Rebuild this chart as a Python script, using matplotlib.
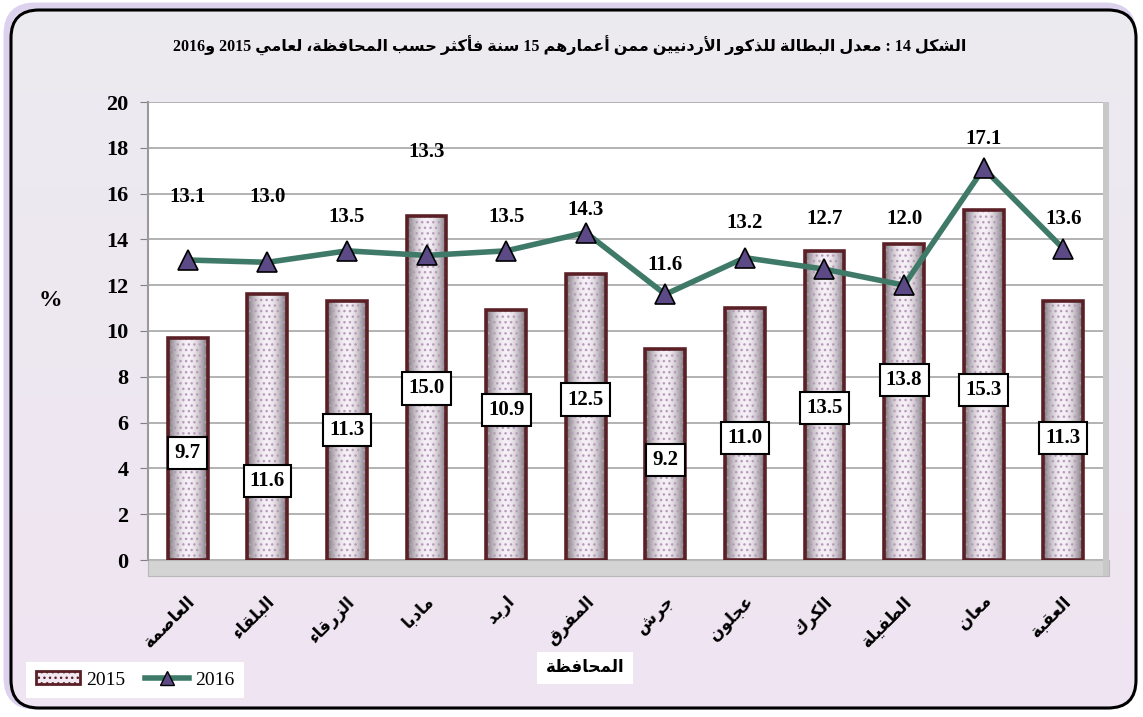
import re
import numpy as np
import matplotlib
matplotlib.use("Agg")
import matplotlib.pyplot as plt
from matplotlib.patches import FancyBboxPatch, Rectangle, Patch
from matplotlib.lines import Line2D

plt.rcParams['font.family'] = ['Liberation Serif', 'DejaVu Sans']

# data
governorates = ['العاصمة', 'البلقاء', 'الزرقاء', 'مادبا', 'اربد', 'المفرق',
                'جرش', 'عجلون', 'الكرك', 'الطفيلة', 'معان', 'العقبة']
rate_2015 = [9.7, 11.6, 11.3, 15.0, 10.9, 12.5, 9.2, 11.0, 13.5, 13.8, 15.3, 11.3]
rate_2016 = [13.1, 13.0, 13.5, 13.3, 13.5, 14.3, 11.6, 13.2, 12.7, 12.0, 17.1, 13.6]
title = 'الشكل 14 : معدل البطالة للذكور الأردنيين ممن أعمارهم 15 سنة فأكثر حسب المحافظة، لعامي 2015 و2016'
xlabel = 'المحافظة'

# where the value boxes sit (y in data units), as placed in the original
bar_label_y = [4.67, 3.45, 5.68, 7.5, 6.55, 7.0, 4.37, 5.33, 6.64, 7.86, 7.42, 5.33]
line_label_y = [15.85, 15.85, 15.0, 17.8, 15.0, 15.3, 12.9, 14.7, 14.9, 14.9, 18.4, 14.9]

# --- minimal arabic shaping (matplotlib draws no joined letters by itself) ---
FORMS = {
    'ء': (0xFE80, 1), 'آ': (0xFE81, 2), 'أ': (0xFE83, 2), 'ؤ': (0xFE85, 2),
    'إ': (0xFE87, 2), 'ئ': (0xFE89, 4), 'ا': (0xFE8D, 2), 'ب': (0xFE8F, 4),
    'ة': (0xFE93, 2), 'ت': (0xFE95, 4), 'ث': (0xFE99, 4), 'ج': (0xFE9D, 4),
    'ح': (0xFEA1, 4), 'خ': (0xFEA5, 4), 'د': (0xFEA9, 2), 'ذ': (0xFEAB, 2),
    'ر': (0xFEAD, 2), 'ز': (0xFEAF, 2), 'س': (0xFEB1, 4), 'ش': (0xFEB5, 4),
    'ص': (0xFEB9, 4), 'ض': (0xFEBD, 4), 'ط': (0xFEC1, 4), 'ظ': (0xFEC5, 4),
    'ع': (0xFEC9, 4), 'غ': (0xFECD, 4), 'ف': (0xFED1, 4), 'ق': (0xFED5, 4),
    'ك': (0xFED9, 4), 'ل': (0xFEDD, 4), 'م': (0xFEE1, 4), 'ن': (0xFEE5, 4),
    'ه': (0xFEE9, 4), 'و': (0xFEED, 2), 'ى': (0xFEEF, 2), 'ي': (0xFEF1, 4),
}
LAM_ALEF = {'ا': 0xFEFB, 'أ': 0xFEF7, 'إ': 0xFEF9, 'آ': 0xFEF5}


def shape(s):
    units = []
    i = 0
    while i < len(s):
        c = s[i]
        if c == 'ل' and i + 1 < len(s) and s[i + 1] in LAM_ALEF:
            units.append(('LA', LAM_ALEF[s[i + 1]]))
            i += 2
        else:
            units.append((c, None))
            i += 1

    def is_ar(u):
        return u[0] == 'LA' or u[0] in FORMS

    def joins_fwd(u):
        return u[0] in FORMS and FORMS[u[0]][1] == 4

    out = []
    for k, u in enumerate(units):
        if not is_ar(u):
            out.append(u[0])
            continue
        prev = units[k - 1] if k > 0 else None
        nxt = units[k + 1] if k + 1 < len(units) else None
        jp = prev is not None and joins_fwd(prev) and u[0] != 'ء'
        if u[0] == 'LA':
            out.append(chr(u[1] + (1 if jp else 0)))
            continue
        base, n = FORMS[u[0]]
        jn = n == 4 and nxt is not None and is_ar(nxt) and nxt[0] != 'ء'
        if n == 1:
            off = 0
        elif jp and jn:
            off = 3
        elif jp:
            off = 1
        elif jn:
            off = 2
        else:
            off = 0
        out.append(chr(base + off))
    text = ''.join(out)
    # simple bidi: keep digit runs, reverse everything else
    runs = re.findall(r'[0-9A-Za-z.]+|[^0-9A-Za-z.]+', text)
    vis = []
    for r in reversed(runs):
        vis.append(r if re.match(r'[0-9A-Za-z.]', r) else r[::-1])
    return ''.join(vis)


fig = plt.figure(figsize=(11.43, 7.17), dpi=100)
fig.patch.set_facecolor('white')

# background with rounded frame, in pixel units
bg = fig.add_axes([0, 0, 1, 1], zorder=-10)
bg.set_xlim(0, 1143)
bg.set_ylim(717, 0)
bg.axis('off')
shadow = FancyBboxPatch((7, 6), 1126, 700, boxstyle='round,pad=0,rounding_size=28',
                        facecolor='none', edgecolor='#dcd2ee', linewidth=5)
bg.add_patch(shadow)
frame = FancyBboxPatch((11, 10), 1125, 698, boxstyle='round,pad=0,rounding_size=28',
                       facecolor='none', edgecolor='black', linewidth=2.2, zorder=3)
bg.add_patch(frame)
grad = np.linspace(0, 1, 256).reshape(-1, 1)
top_c = np.array([0.925, 0.92, 0.94])
bot_c = np.array([0.94, 0.895, 0.95])
img = top_c + (bot_c - top_c) * grad[..., None]
im = bg.imshow(img.reshape(256, 1, 3), extent=(11, 1136, 708, 10), aspect='auto', zorder=1)
im.set_clip_path(frame)

ax = fig.add_axes([148 / 1143, 1 - 560 / 717, (1103 - 148) / 1143, (560 - 102) / 717])
ax.set_facecolor('white')
x = np.arange(len(governorates))
w = 0.5

# floor and right wall of the 3d plot area
ax.add_patch(Rectangle((0, -0.035), 1.006, 0.035, transform=ax.transAxes,
                       facecolor='#d4d4d4', edgecolor='#b8b8b8', linewidth=0.8,
                       clip_on=False, zorder=0.5))
ax.add_patch(Rectangle((1.0, -0.035), 0.006, 1.035, transform=ax.transAxes,
                       facecolor='#c8c8c8', edgecolor='none', clip_on=False, zorder=0.5))

ax.set_xlim(-0.5, len(governorates) - 0.5)
ax.set_ylim(0, 20)
ax.set_yticks(range(0, 21, 2))
ax.yaxis.grid(True, color='#a6a6a6', linewidth=1.2)
ax.set_axisbelow(True)
for s in ['top', 'right', 'bottom']:
    ax.spines[s].set_visible(False)
ax.spines['left'].set_color('#9a9a9a')
ax.spines['left'].set_linewidth(1.5)
ax.tick_params(axis='y', length=6, color='#808080', labelsize=16, pad=8)
for t in ax.get_yticklabels():
    t.set_fontweight('bold')

# bars: soft cylinder shading + dot pattern + dark outline
shade = np.abs(np.linspace(-1, 1, 64))
shade_img = np.ones((1, 64, 4))
shade_img[0, :, :3] = (1 - 0.55 * shade ** 2.0)[:, None] * np.array([0.97, 0.94, 0.97])
for xi, v in zip(x, rate_2015):
    ax.imshow(shade_img, extent=(xi - w / 2, xi + w / 2, 0, v), aspect='auto', zorder=2)
ax.bar(x, rate_2015, w, facecolor='none', edgecolor='#b49cb8', hatch='...',
       linewidth=0, zorder=2.1)
ax.bar(x, rate_2015, w, facecolor='none', edgecolor='#5a2026', linewidth=2.6, zorder=2.2)
ax.set_aspect('auto')

ax.plot(x, rate_2016, color='#3f7a68', linewidth=4, marker='^', markersize=15,
        markerfacecolor='#5b4a86', markeredgecolor='black', markeredgewidth=1.2, zorder=4)

for xi, v, ly in zip(x, rate_2015, bar_label_y):
    ax.text(xi, ly, f'{v:.1f}', ha='center', va='center', fontsize=15, fontweight='bold',
            zorder=5, bbox=dict(boxstyle='square,pad=0.3', facecolor='white',
                                edgecolor='black', linewidth=1.5))
for xi, v, ly in zip(x, rate_2016, line_label_y):
    ax.text(xi, ly, f'{v:.1f}', ha='center', va='center', fontsize=15, fontweight='bold',
            zorder=5)

ax.set_xticks(x)
ax.set_xticklabels([shape(g) for g in governorates], rotation=45, ha='right',
                   va='top', rotation_mode='anchor', fontsize=12, fontweight='bold')
ax.tick_params(axis='x', length=0, pad=24)

fig.text(570 / 1143, 1 - 46 / 717, shape(title), ha='center', va='center',
         fontsize=11.5, fontweight='bold')
fig.text(50 / 1143, 1 - 300 / 717, '%', ha='center', va='center', fontsize=17,
         fontweight='bold')
fig.text(585 / 1143, 1 - 668 / 717, shape(xlabel), ha='center', va='center', fontsize=12,
         fontweight='bold', bbox=dict(boxstyle='square,pad=0.5', facecolor='white',
                                      edgecolor='none'))

handles = [Patch(facecolor='#f1e8f1', edgecolor='#5a2026', hatch='...', linewidth=2),
           Line2D([], [], color='#3f7a68', linewidth=4, marker='^', markersize=10,
                  markerfacecolor='#5b4a86', markeredgecolor='black')]
leg = fig.legend(handles, ['2015', '2016'], ncol=2, loc='center',
                 bbox_to_anchor=(135 / 1143, 1 - 680 / 717), frameon=True, fancybox=False,
                 prop={'size': 14}, handlelength=2.3, handleheight=0.6, columnspacing=1.0,
                 handletextpad=0.3, borderpad=0.5)
leg.get_frame().set_facecolor('white')
leg.get_frame().set_edgecolor('none')
leg.get_frame().set_alpha(1)

fig.savefig('out.png', dpi=100)
